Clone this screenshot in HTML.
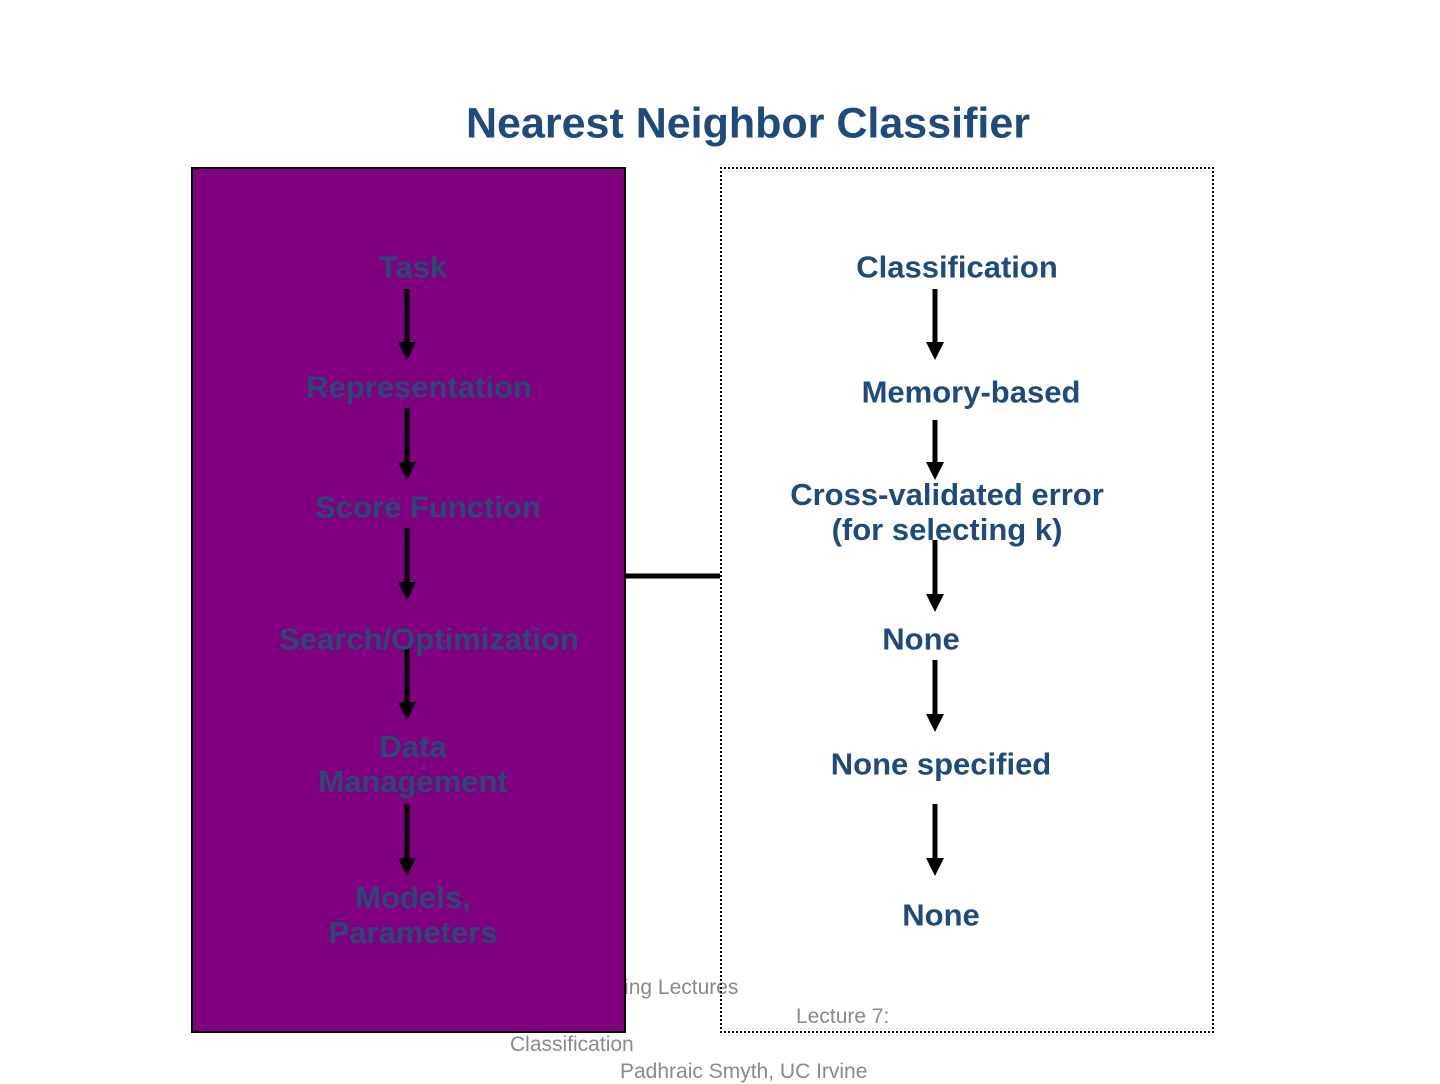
<!DOCTYPE html>
<html><head><style>
body{margin:0;width:1440px;height:1080px;background:#fff;position:relative;overflow:hidden;font-family:"Liberation Sans",sans-serif;}
.t{position:absolute;transform:translate(-50%,-50%);white-space:nowrap;font-weight:bold;font-size:31px;line-height:35px;text-align:center;}
.l{color:#2a4878;}
.r{color:#1f4a7c;}
.f{position:absolute;color:#8a8a8a;font-size:21px;white-space:nowrap;line-height:24px;}
</style></head><body>
<div class="t" style="left:748px;top:124px;font-size:43px;color:#1f4a7c;">Nearest Neighbor Classifier</div>
<div class="f" style="left:540px;top:976px;">Data Mining Lectures</div>
<div style="position:absolute;left:191px;top:167px;width:431px;height:862px;background:#800080;border:2px solid #000;"></div>
<div style="position:absolute;left:720px;top:167px;width:490px;height:862px;border:2px dotted #000;"></div>
<div class="f" style="left:796px;top:1005px;">Lecture 7:</div>
<div class="f" style="left:510px;top:1033px;">Classification</div>
<div class="f" style="left:620px;top:1060px;">Padhraic Smyth, UC Irvine</div>
<svg width="1440" height="1080" style="position:absolute;left:0;top:0">
<line x1="625" y1="576" x2="720" y2="576" stroke="#000" stroke-width="5"/>
<g stroke="#000" stroke-width="5">
<line x1="407" y1="289" x2="407" y2="345"/><line x1="407" y1="408" x2="407" y2="465"/><line x1="407" y1="528" x2="407" y2="585"/><line x1="407" y1="648" x2="407" y2="705"/><line x1="407" y1="804" x2="407" y2="861"/>
<line x1="935" y1="289" x2="935" y2="345"/><line x1="935" y1="420" x2="935" y2="465"/><line x1="935" y1="540" x2="935" y2="597"/><line x1="935" y1="660" x2="935" y2="717"/><line x1="935" y1="804" x2="935" y2="861"/>
</g>
<g fill="#000">
<polygon points="398,342 416,342 407,360"/><polygon points="398,462 416,462 407,480"/><polygon points="398,582 416,582 407,600"/><polygon points="398,702 416,702 407,720"/><polygon points="398,858 416,858 407,876"/>
<polygon points="926,342 944,342 935,360"/><polygon points="926,462 944,462 935,480"/><polygon points="926,594 944,594 935,612"/><polygon points="926,714 944,714 935,732"/><polygon points="926,858 944,858 935,876"/>
</g>
</svg>
<div class="t l" style="left:413px;top:267px;">Task</div>
<div class="t l" style="left:419px;top:387px;">Representation</div>
<div class="t l" style="left:428px;top:507px;">Score Function</div>
<div class="t l" style="left:429px;top:639px;">Search/Optimization</div>
<div class="t l" style="left:413px;top:764px;">Data<br>Management</div>
<div class="t l" style="left:413px;top:915px;">Models,<br>Parameters</div>
<div class="t r" style="left:957px;top:267px;">Classification</div>
<div class="t r" style="left:971px;top:392px;">Memory-based</div>
<div class="t r" style="left:947px;top:512px;">Cross-validated error<br>(for selecting k)</div>
<div class="t r" style="left:921px;top:639px;">None</div>
<div class="t r" style="left:941px;top:764px;">None specified</div>
<div class="t r" style="left:941px;top:915px;">None</div>
</body></html>
